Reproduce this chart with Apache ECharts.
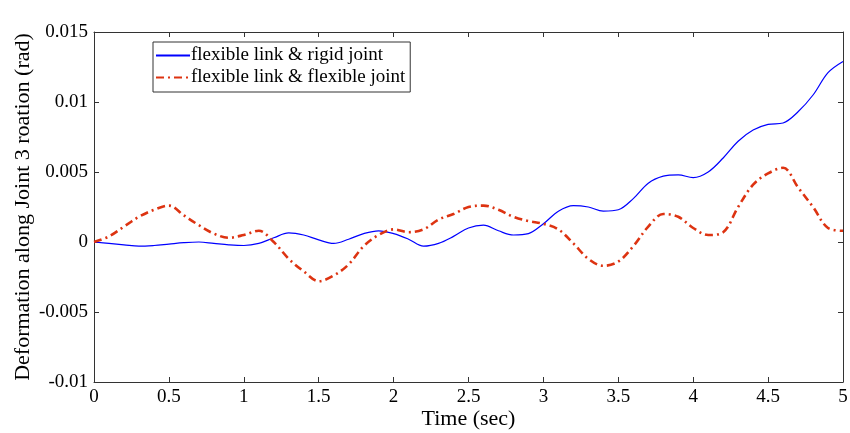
<!DOCTYPE html>
<html><head><meta charset="utf-8">
<script src="https://cdn.jsdelivr.net/npm/echarts@6/dist/echarts.min.js"></script>
<style>html,body{margin:0;padding:0;background:#fff}#c{width:850px;height:433px}</style>
</head><body><div id="c"></div>
<script>
const timeSec = [0,0.1,0.2,0.3,0.4,0.5,0.6,0.7,0.8,0.9,1.0,1.1,1.2,1.3,1.4,1.5,1.6,1.7,1.8,1.9,2.0,2.1,2.2,2.3,2.4,2.5,2.6,2.7,2.8,2.9,3.0,3.1,3.2,3.3,3.4,3.5,3.6,3.7,3.8,3.9,4.0,4.1,4.2,4.3,4.4,4.5,4.6,4.7,4.8,4.9,5.0];
const rigidJoint = [0,-0.0001,-0.0002,-0.0003,-0.00025,-0.00015,-0.00005,0,-0.0001,-0.0002,-0.00025,-0.0001,0.0003,0.00065,0.0005,0.00015,-0.0001,0.0002,0.0006,0.0008,0.0006,0.0002,-0.0003,-0.0001,0.0004,0.001,0.0012,0.0008,0.0005,0.0006,0.0013,0.0022,0.0026,0.0025,0.0022,0.0023,0.0031,0.0042,0.0047,0.0048,0.0046,0.005,0.006,0.0072,0.008,0.0084,0.0085,0.0093,0.0105,0.0121,0.0129];
const flexibleJoint = [0,0.0004,0.0011,0.0018,0.0023,0.0026,0.0019,0.0012,0.0006,0.0003,0.0005,0.0008,0.0,-0.0012,-0.0021,-0.0028,-0.0024,-0.0016,-0.0003,0.0005,0.0009,0.0007,0.0009,0.0016,0.002,0.0025,0.0026,0.0023,0.0018,0.0015,0.0013,0.0009,-0.0001,-0.0012,-0.0017,-0.0014,-0.0003,0.0011,0.002,0.0018,0.001,0.0005,0.0007,0.0025,0.0041,0.0049,0.0053,0.0039,0.0025,0.001,0.0008];
const seriesNames = ['flexible link & rigid joint','flexible link & flexible joint'];
const xTitle = 'Time (sec)';
const yTitle = 'Deformation along Joint 3 roation (rad)';

const font = 'Liberation Serif';
const axisCol = '#333';
const pair = arr => timeSec.map((t,i)=>[t,arr[i]]);
const chart = echarts.init(document.getElementById('c'));
const baseX = {type:'value',min:0,max:5,interval:0.5,splitLine:{show:false},
  axisLine:{onZero:false,lineStyle:{color:axisCol,width:1}},axisTick:{inside:true,length:5,lineStyle:{color:axisCol}}};
const baseY = {type:'value',min:-0.01,max:0.015,interval:0.005,splitLine:{show:false},
  axisLine:{show:true,onZero:false,lineStyle:{color:axisCol,width:1}},axisTick:{show:true,inside:true,length:5,lineStyle:{color:axisCol}}};
chart.setOption({
  animation:false,
  backgroundColor:'#fff',
  grid:{left:94,right:7,top:32,bottom:51,containLabel:false,outerBoundsMode:'none'},
  legend:{
    left:153,top:42,orient:'vertical',
    data:seriesNames,
    borderColor:'#333',borderWidth:1,padding:[4,5,5,2],itemGap:3,
    itemWidth:34,itemHeight:14,
    itemStyle:{opacity:0},
    textStyle:{fontFamily:font,fontSize:19,color:'#000',padding:[0,0,0,-4]}
  },
  xAxis:[
    Object.assign({},baseX,{position:'bottom',name:xTitle,nameLocation:'middle',nameGap:26,nameMoveOverlap:false,
      nameTextStyle:{fontFamily:font,fontSize:22,color:'#000'},
      axisLabel:{fontFamily:font,fontSize:19,color:'#000',margin:6,formatter:v=>String(+v.toFixed(1))}}),
    Object.assign({},baseX,{position:'top',axisLabel:{show:false}})
  ],
  yAxis:[
    Object.assign({},baseY,{position:'left',name:yTitle,nameLocation:'middle',nameGap:60,nameMoveOverlap:false,
      nameTextStyle:{fontFamily:font,fontSize:22,color:'#000'},
      axisLabel:{fontFamily:font,fontSize:19,color:'#000',margin:6,formatter:v=>String(+v.toFixed(3))}}),
    Object.assign({},baseY,{position:'right',axisLabel:{show:false}})
  ],
  series:[
    {name:seriesNames[0],type:'line',data:pair(rigidJoint),smooth:0.35,showSymbol:false,symbol:'none',
      lineStyle:{color:'#0000ff',width:1.2},itemStyle:{color:'#0000ff'}},
    {name:seriesNames[1],type:'line',data:pair(flexibleJoint),smooth:0.35,showSymbol:false,symbol:'none',
      lineStyle:{color:'#dd3311',width:2.6,type:[8,4,2,4]},itemStyle:{color:'#dd3311'}}
  ]
});
</script></body></html>
